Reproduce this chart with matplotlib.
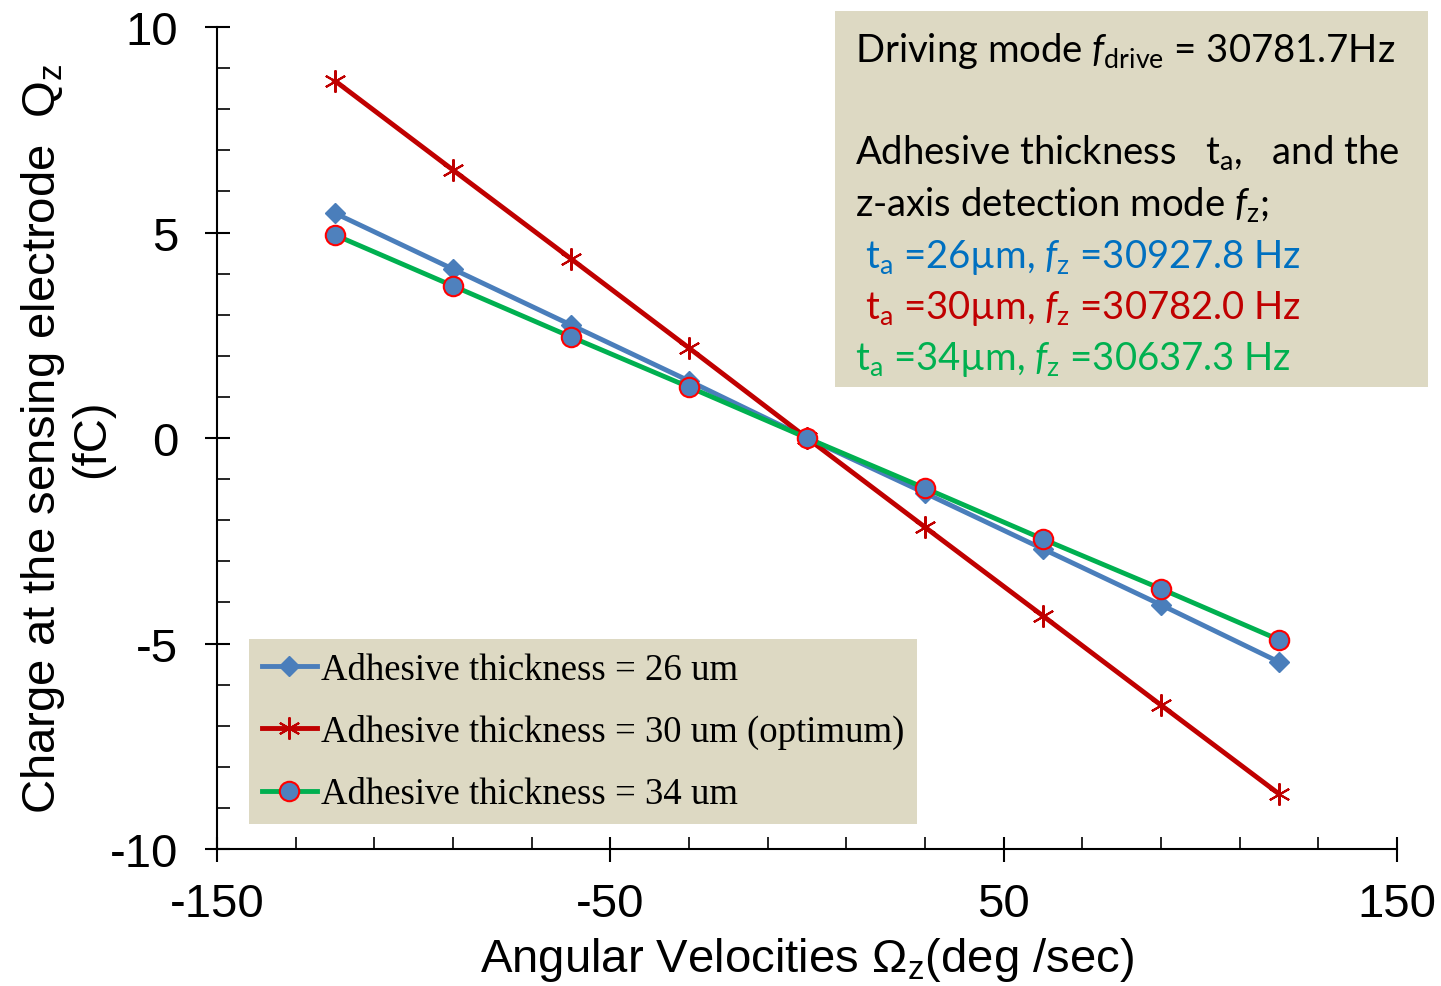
import numpy as np
from matplotlib import pyplot as plt
from matplotlib.patches import Rectangle

plt.rcParams['mathtext.fontset'] = 'custom'
plt.rcParams['mathtext.rm'] = 'Lato'
plt.rcParams['mathtext.it'] = 'Lato:italic'
plt.rcParams['axes.unicode_minus'] = False

# angular velocity (deg/sec) and charge (fC) for each adhesive thickness
omega = [-120, -90, -60, -30, 0, 30, 60, 90, 120]
q26 = [5.47, 4.11, 2.75, 1.39, 0, -1.34, -2.70, -4.06, -5.45]
q30 = [8.69, 6.52, 4.36, 2.19, 0, -2.17, -4.33, -6.50, -8.66]
q34 = [4.94, 3.70, 2.46, 1.24, 0, -1.22, -2.46, -3.67, -4.91]
labels = ['Adhesive thickness = 26 um',
          'Adhesive thickness = 30 um (optimum)',
          'Adhesive thickness = 34 um']
xticks = [-150, -50, 50, 150]
yticks = [-10, -5, 0, 5, 10]

tan = '#DDD9C3'
fig = plt.figure(figsize=(14.41, 9.87), dpi=100)
ax = fig.add_axes([0.1506, 0.1388, 0.8189, 0.8328])

ax.plot(omega, q26, color='#4A7EBB', lw=3.5, marker='D', ms=10,
        mfc='#4A7EBB', mec='#4A7EBB', label=labels[0])
ax.plot(omega, q30, color='#C00000', lw=3.5, marker=(6, 2, 0), ms=16,
        mec='#C00000', mew=1.5, label=labels[1])
ax.plot(omega, q34, color='#00B050', lw=3.5, marker='o', ms=14,
        mfc='#4F81BD', mec='#FF0000', mew=1.5, label=labels[2])

ax.set_xlim(-150, 150)
ax.set_ylim(-10, 10)
ax.set_xticks(xticks)
ax.set_yticks(yticks)
ax.set_xticks(np.arange(-130, 150, 20), minor=True)
ax.set_yticks(np.arange(-10, 10.5, 1), minor=True)
for s in ['top', 'right']:
    ax.spines[s].set_visible(False)
for s in ['left', 'bottom']:
    ax.spines[s].set_linewidth(1.5)
ax.tick_params(which='major', direction='inout', length=18, width=1.5,
               labelsize=34)
ax.tick_params(axis='y', which='major', pad=19)
ax.tick_params(axis='x', which='major', pad=15)
ax.tick_params(which='minor', direction='in', length=9, width=1.2)
for t in ax.get_xticklabels() + ax.get_yticklabels():
    t.set_fontfamily('Liberation Sans')

ax.set_xlabel(r'Angular Velocities Ω$_\mathregular{z}$(deg /sec)',
              fontsize=34, fontfamily='Liberation Sans')
ax.xaxis.set_label_coords(0.5, -0.105)
ax.set_ylabel('Charge at the sensing electrode  Q$_\\mathregular{z}$\n(fC)',
              fontsize=34, fontfamily='Liberation Sans', linespacing=1.1)
ax.yaxis.set_label_coords(-0.087, 0.5)

leg = ax.legend(loc='lower left', bbox_to_anchor=(0.027, 0.030),
                borderaxespad=0, prop={'family': 'Liberation Serif', 'size': 26.5},
                handlelength=1.5, handletextpad=0.1, labelspacing=0.75,
                borderpad=0.35, fancybox=False, framealpha=1)
leg.get_frame().set_facecolor(tan)
leg.get_frame().set_edgecolor('none')

# info box in the upper right
W, H = 1441, 987
fig.patches.append(Rectangle((835 / W, 1 - 388 / H), (1428 - 835) / W, (388 - 12) / H,
                             transform=fig.transFigure, facecolor=tan,
                             edgecolor='none', zorder=3))
box_lines = [
    (855, 62, 'black', r'Driving mode $\mathit{f}_\mathregular{drive}$ = 30781.7Hz'),
    (855, 164, 'black', r'Adhesive thickness   t$_\mathregular{a}$,   and the'),
    (855, 216, 'black', r'z-axis detection mode $\mathit{f}_\mathregular{z}$;'),
    (865, 268, '#0070C0', r't$_\mathregular{a}$ =26µm, $\mathit{f}_\mathregular{z}$ =30927.8 Hz'),
    (865, 319, '#C00000', r't$_\mathregular{a}$ =30µm, $\mathit{f}_\mathregular{z}$ =30782.0 Hz'),
    (855, 370, '#00B050', r't$_\mathregular{a}$ =34µm, $\mathit{f}_\mathregular{z}$ =30637.3 Hz'),
]
for x, y, c, s in box_lines:
    fig.text(x / W, 1 - y / H, s, color=c, fontsize=27.5, fontfamily='Lato',
             va='baseline', ha='left', zorder=4)

plt.savefig('out.png', dpi=100)
